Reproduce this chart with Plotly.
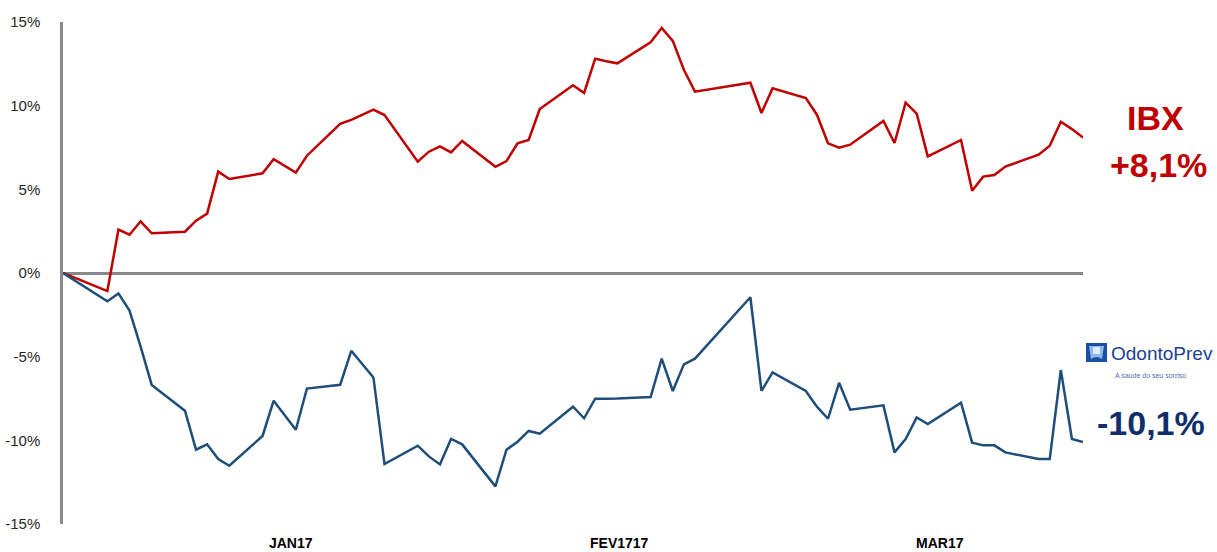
import plotly.graph_objects as go

# Daily trading dates (Q1 2017, base = last close of 2016)
dates = [
    "2016-12-29", "2017-01-02", "2017-01-03", "2017-01-04", "2017-01-05", "2017-01-06",
    "2017-01-09", "2017-01-10", "2017-01-11", "2017-01-12", "2017-01-13",
    "2017-01-16", "2017-01-17", "2017-01-19", "2017-01-20",
    "2017-01-23", "2017-01-24", "2017-01-26", "2017-01-27",
    "2017-01-30", "2017-01-31", "2017-02-01", "2017-02-02", "2017-02-03",
    "2017-02-06", "2017-02-07", "2017-02-08", "2017-02-09", "2017-02-10",
    "2017-02-13", "2017-02-14", "2017-02-15", "2017-02-16", "2017-02-17",
    "2017-02-20", "2017-02-21", "2017-02-22", "2017-02-23", "2017-02-24",
    "2017-03-01", "2017-03-02", "2017-03-03",
    "2017-03-06", "2017-03-07", "2017-03-08", "2017-03-09", "2017-03-10",
    "2017-03-13", "2017-03-14", "2017-03-15", "2017-03-16", "2017-03-17",
    "2017-03-20", "2017-03-21", "2017-03-22", "2017-03-23", "2017-03-24",
    "2017-03-27", "2017-03-28", "2017-03-29", "2017-03-30", "2017-03-31",
]

# Accumulated return, % (IBX index)
ibx = [
    0.00, -1.08, 2.59, 2.29, 3.09, 2.37,
    2.47, 3.13, 3.55, 6.06, 5.62,
    5.96, 6.80, 6.00, 7.01,
    8.91, 9.15, 9.76, 9.44,
    6.65, 7.25, 7.57, 7.21, 7.89,
    6.35, 6.69, 7.75, 7.95, 9.80,
    11.22, 10.76, 12.81, 12.65, 12.53,
    13.79, 14.64, 13.87, 12.15, 10.84,
    11.37, 9.56, 11.04,
    10.46, 9.46, 7.75, 7.49, 7.67,
    9.09, 7.77, 10.18, 9.52, 6.97,
    7.95, 4.92, 5.76, 5.86, 6.36,
    7.07, 7.61, 9.04, 8.60, 8.10,
]

# Accumulated return, % (OdontoPrev shares)
odpv = [
    0.00, -1.69, -1.22, -2.25, -4.40, -6.69,
    -8.23, -10.56, -10.24, -11.12, -11.52,
    -9.74, -7.63, -9.37, -6.91,
    -6.68, -4.65, -6.24, -11.42,
    -10.32, -10.96, -11.44, -9.92, -10.24,
    -12.75, -10.56, -10.08, -9.44, -9.60,
    -7.99, -8.68, -7.51, -7.51, -7.50,
    -7.41, -5.12, -7.05, -5.46, -5.12,
    -1.45, -7.05, -5.94,
    -7.05, -7.99, -8.71, -6.56, -8.17,
    -7.91, -10.72, -9.92, -8.63, -9.03,
    -7.75, -10.14, -10.30, -10.30, -10.72,
    -11.12, -11.12, -5.80, -9.92, -10.10,
]

y_ticks = [-15, -10, -5, 0, 5, 10, 15]
y_tick_text = ["-15%", "-10%", "-5%", "0%", "5%", "10%", "15%"]

month_tick_dates = ["2017-01-18 13:00", "2017-02-17 04:00", "2017-03-18 02:00"]
month_tick_text = ["JAN17", "FEV1717", "MAR17"]

ibx_label = ["IBX", "+8,1%"]
odpv_label = "-10,1%"

RED = "#C00000"
BLUE = "#1F4E79"
NAVY = "#102E6A"

W, H = 1217, 552
L, R, T, B = 63, 134, 22, 28
PW, PH = W - L - R, H - T - B


def px(x):
    return (x - L) / PW


def py(y):
    return (H - B - y) / PH


fig = go.Figure()
fig.add_trace(go.Scatter(x=dates, y=ibx, mode="lines", name="IBX",
                         line=dict(color=RED, width=2.5), hoverinfo="x+y"))
fig.add_trace(go.Scatter(x=dates, y=odpv, mode="lines", name="OdontoPrev",
                         line=dict(color=BLUE, width=2.5), hoverinfo="x+y"))

annotations = [
    dict(text="<b>%s</b>" % ibx_label[0], x=px(1155.5), y=py(118), xref="paper", yref="paper",
         showarrow=False, xanchor="center", yanchor="middle",
         font=dict(family="Liberation Sans, Arial", size=34, color=RED)),
    dict(text="<b>%s</b>" % ibx_label[1], x=px(1158.5), y=py(165), xref="paper", yref="paper",
         showarrow=False, xanchor="center", yanchor="middle",
         font=dict(family="Liberation Sans, Arial", size=34, color=RED)),
    dict(text="<b>%s</b>" % odpv_label, x=px(1151), y=py(423), xref="paper", yref="paper",
         showarrow=False, xanchor="center", yanchor="middle",
         font=dict(family="Liberation Sans, Arial", size=34, color=NAVY)),
    dict(text="OdontoPrev", x=px(1162), y=py(353), xref="paper", yref="paper",
         showarrow=False, xanchor="center", yanchor="middle",
         font=dict(family="Liberation Sans, Arial", size=19, color="#1C3F94")),
    dict(text="A saúde do seu sorriso", x=px(1150), y=py(375), xref="paper", yref="paper",
         showarrow=False, xanchor="center", yanchor="middle",
         font=dict(family="Liberation Sans, Arial", size=7, color="#4A6FB5")),
]

shapes = [
    # logo badge
    dict(type="rect", xref="paper", yref="paper",
         x0=px(1086), x1=px(1107), y0=py(362), y1=py(343),
         fillcolor="#1A4FA3", line=dict(width=0)),
    dict(type="path", xref="paper", yref="paper",
         path="M {a},{b} L {c},{b} L {d},{e} Q {f},{g} {h},{e} Z".format(
             a=px(1089), b=py(346), c=px(1104), d=px(1102), e=py(359),
             f=px(1096.5), g=py(355), h=px(1091)),
         fillcolor="#8DB9E8", line=dict(width=0)),
    dict(type="rect", xref="paper", yref="paper",
         x0=px(1093), x1=px(1100), y0=py(354), y1=py(347),
         fillcolor="#DDEBFA", line=dict(width=0)),
]

fig.update_layout(
    width=W, height=H,
    margin=dict(l=L, r=R, t=T, b=B, pad=0),
    paper_bgcolor="white", plot_bgcolor="white",
    showlegend=False,
    font=dict(family="Liberation Sans, Arial", color="#262626"),
    annotations=annotations,
    shapes=shapes,
    xaxis=dict(
        type="date",
        range=["2016-12-29", "2017-03-31"],
        tickvals=month_tick_dates,
        ticktext=["<b>%s</b>" % t for t in month_tick_text],
        tickfont=dict(size=14, color="#000000", family="Liberation Sans, Arial"),
        ticks="outside", ticklen=6, tickcolor="rgba(0,0,0,0)",
        showgrid=False, zeroline=False, showline=False,
        automargin=False,
    ),
    yaxis=dict(
        range=[-15, 15],
        tickvals=y_ticks, ticktext=y_tick_text,
        tickfont=dict(size=15, color="#262626"),
        ticks="outside", ticklen=17, tickcolor="rgba(0,0,0,0)",
        showgrid=False,
        zeroline=True, zerolinecolor="#888888", zerolinewidth=2.5,
        showline=True, linecolor="#888888", linewidth=2.5,
        automargin=False,
    ),
)

fig.write_html("out.html")
